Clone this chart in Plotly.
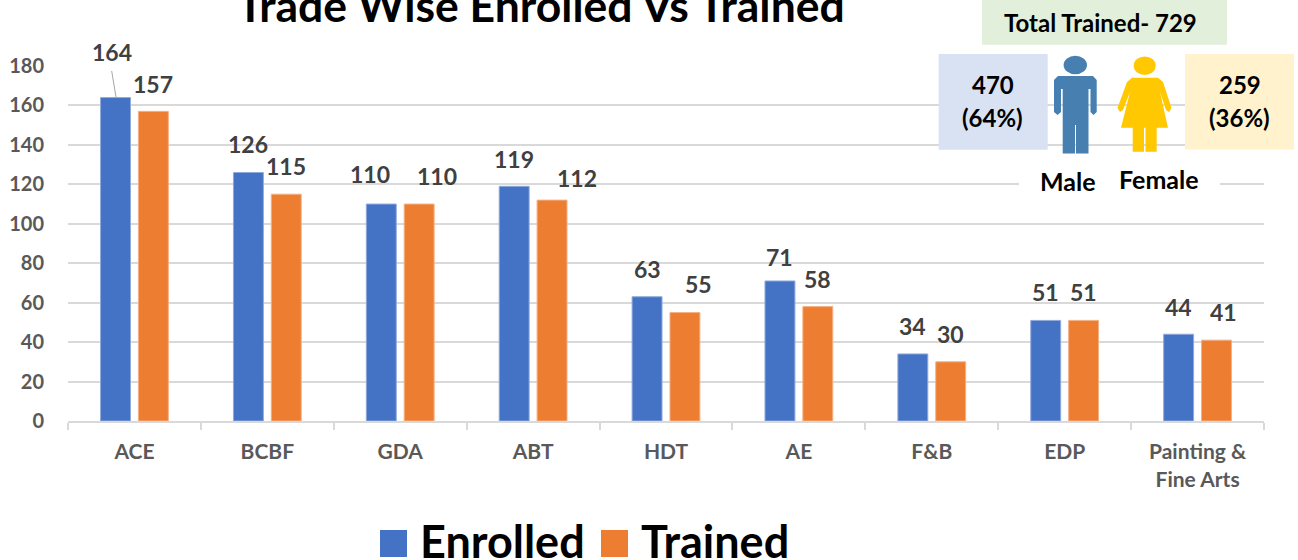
import plotly.graph_objects as go

categories = ["ACE", "BCBF", "GDA", "ABT", "HDT", "AE", "F&B", "EDP", "Painting &<br>Fine Arts"]
enrolled = [164, 126, 110, 119, 63, 71, 34, 51, 44]
trained = [157, 115, 110, 112, 55, 58, 30, 51, 41]
y_ticks = [0, 20, 40, 60, 80, 100, 120, 140, 160, 180]

# label centres in page pixels
enrolled_label_px = [(112, 52), (248, 144), (370, 174), (514, 159), (647, 269), (779, 257), (912, 326), (1045, 292), (1178, 307)]
trained_label_px = [(153, 84), (286, 166), (437, 176), (577, 178), (698, 284), (817, 279), (950, 334), (1083, 292), (1223, 312)]

W, H = 1298, 560
L, R, T, B = 68, 1264, 66, 421
FONT = "Lato"
BLUE, ORANGE = "#4472C4", "#ED7D31"


def px(x):
    return (x - L) / (R - L)


def py(y):
    return (B - y) / (B - T)


def rect(x0, y0, x1, y1, color):
    return dict(type="rect", xref="paper", yref="paper", x0=px(x0), x1=px(x1), y0=py(y0), y1=py(y1),
                fillcolor=color, line_width=0, layer="above")


def ellipse(cx, cy, rx, ry, color):
    return dict(type="circle", xref="paper", yref="paper", x0=px(cx - rx), x1=px(cx + rx), y0=py(cy - ry), y1=py(cy + ry),
                fillcolor=color, line_width=0, layer="above")


def poly(points, color):
    d = "M" + " L".join(f"{px(a):.5f},{py(b):.5f}" for a, b in points) + " Z"
    return dict(type="path", xref="paper", yref="paper", path=d, fillcolor=color, line_width=0, layer="above")


def text(x, y, s, size, color="#000000"):
    return dict(xref="paper", yref="paper", x=px(x), y=py(y), text=s, showarrow=False, xanchor="center", yanchor="middle",
                font=dict(family=FONT, size=size, color=color, weight="bold"))


fig = go.Figure()
fig.add_bar(x=categories, y=enrolled, name="Enrolled", marker=dict(color=BLUE, line=dict(color="#8FAADC", width=1)))
fig.add_bar(x=categories, y=trained, name="Trained", marker=dict(color=ORANGE, line=dict(color="#F4B183", width=1)))

MALE, FEMALE = "#467FB0", "#FFC800"
shapes = [
    rect(1019, 172, 1220, 192, "#FFFFFF"),
    rect(982, 0, 1227, 44.7, "#E2EFDA"),
    rect(938.7, 54, 1047.7, 149.7, "#D9E2F3"),
    rect(1185, 54, 1294, 149.5, "#FFF2CC"),
    # male figure
    ellipse(1075.3, 65, 11.7, 9.3, MALE),
    poly([(1058, 76), (1093, 76), (1096.7, 80), (1096.7, 112), (1093.5, 115), (1090.5, 112), (1090.5, 89), (1088.5, 89),
          (1088.5, 153.5), (1076, 153.5), (1076, 125), (1075, 125), (1075, 153.5), (1062.7, 153.5), (1062.7, 89), (1061, 89),
          (1061, 112), (1057.5, 115), (1054, 112), (1054, 80)], MALE),
    # female figure
    ellipse(1144.7, 65.7, 11, 9.3, FEMALE),
    poly([(1132, 77.7), (1158, 77.7), (1163, 82), (1171.5, 108), (1169, 112), (1166, 110), (1160, 92), (1168, 127.7),
          (1156.7, 127.7), (1156.7, 151.7), (1145.5, 151.7), (1145.5, 127.7), (1144, 127.7), (1144, 151.7), (1132.7, 151.7),
          (1132.7, 127.7), (1121, 127.7), (1130, 92), (1123, 110), (1120, 112), (1117.5, 108), (1127, 82)], FEMALE),
    # leader line of the first label
    dict(type="line", xref="paper", yref="paper", x0=px(111.7), y0=py(71), x1=px(116), y1=py(97),
         line=dict(color="#A6A6A6", width=1), layer="above"),
    # legend swatches
    rect(380, 530, 407, 557, BLUE),
    rect(601, 530, 628, 557, ORANGE),
]

annotations = [
    text(541, 4, "Trade Wise Enrolled Vs Trained", 44.5),
    text(1100, 23, "Total Trained- 729", 24),
    text(992.7, 84, "470", 24),
    text(992.7, 117, "(64%)", 24),
    text(1239.5, 84, "259", 24),
    text(1239.5, 117, "(36%)", 24),
    text(1068, 181, "Male", 25),
    text(1159, 179, "Female", 25),
    text(502, 541, "Enrolled", 45),
    text(715, 541, "Trained", 45),
]
for values, positions in ((enrolled, enrolled_label_px), (trained, trained_label_px)):
    for v, (x, y) in zip(values, positions):
        annotations.append(text(x, y, str(v), 23, "#404040"))

fig.update_layout(
    width=W, height=H,
    margin=dict(l=L, r=W - R, t=T, b=H - B, pad=0, autoexpand=False),
    paper_bgcolor="white", plot_bgcolor="white",
    barmode="group", bargap=0.43, bargroupgap=0.21,
    showlegend=False,
    font=dict(family=FONT, size=18, color="#595959", weight="bold"),
    shapes=shapes, annotations=annotations,
    xaxis=dict(tickson="boundaries", ticks="outside", ticklen=7, tickcolor="#D9D9D9", tickwidth=2,
               showline=True, linecolor="#D9D9D9", linewidth=2, showgrid=False, ticklabelstandoff=11,
               tickfont=dict(family=FONT, size=21, color="#595959", weight="bold")),
    yaxis=dict(range=[0, 180], tickvals=y_ticks, showgrid=True, gridcolor="#D9D9D9", gridwidth=2,
               zeroline=False, showline=False, ticks="", ticklabelstandoff=23,
               tickfont=dict(family=FONT, size=20, color="#595959", weight="bold")),
)
fig.write_html("out.html", config=dict(displayModeBar=False),
               post_script="document.body.style.margin='0';document.documentElement.style.overflow='hidden';")
